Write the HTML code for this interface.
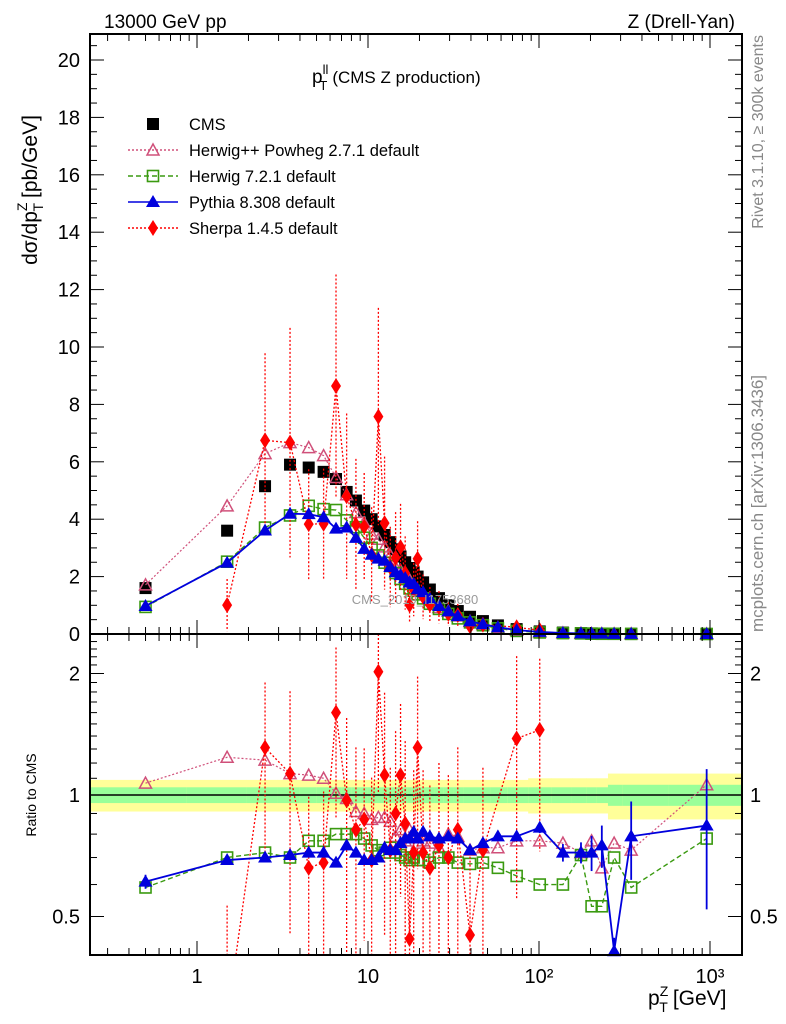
<!DOCTYPE html>
<html><head><meta charset="utf-8"><style>
html,body{margin:0;padding:0;background:#fff}
svg{display:block;font-family:"Liberation Sans",sans-serif}
</style></head><body>
<svg id="chart" width="786" height="1024" viewBox="0 0 786 1024" xmlns="http://www.w3.org/2000/svg">
<g id="bands"></g><g id="grid"></g><g id="series"></g><g id="axes"></g>
<text x="104" y="28" font-size="19">13000 GeV pp</text>
<text x="735" y="28" font-size="19" text-anchor="end">Z (Drell-Yan)</text>
<text x="312" y="83" font-size="19">p<tspan font-size="13" dy="-9">ll</tspan><tspan font-size="13" dx="-9" dy="16">T</tspan><tspan dy="-7" dx="5" font-size="17">(CMS Z production)</tspan></text>
<text x="415" y="604" font-size="13" fill="#999" text-anchor="middle">CMS_2019_I1753680</text>
<text transform="translate(763,35) rotate(-90)" font-size="16" fill="#888" text-anchor="end">Rivet 3.1.10, ≥ 300k events</text>
<text transform="translate(763,632) rotate(-90)" font-size="17" fill="#888">mcplots.cern.ch [arXiv:1306.3436]</text>
<text transform="translate(37,190) rotate(-90)" font-size="21" text-anchor="middle">dσ/dp<tspan font-size="14" dy="-10">Z</tspan><tspan font-size="14" dx="-9" dy="16">T</tspan><tspan dy="-6" dx="5">[pb/GeV]</tspan></text>
<text transform="translate(36,795) rotate(-90)" font-size="14" text-anchor="middle">Ratio to CMS</text>
<text x="648" y="1005" font-size="21">p<tspan font-size="14" dy="-9">Z</tspan><tspan font-size="14" dx="-9" dy="16">T</tspan><tspan dy="-7" dx="5">[GeV]</tspan></text>
<g id="legend"></g>
</svg>
<script>
const pT=[0.5,1.5,2.5,3.5,4.5,5.5,6.5,7.5,8.5,9.5,10.5,11.5,12.5,13.5,14.5,15.5,16.5,17.5,18.5,19.5,21,23,26,29.5,33.5,39.5,47,57.5,74,101,138,176,203,233,275,346,956];
const cmsVals=[1.6,3.6,5.15,5.9,5.8,5.65,5.4,4.95,4.65,4.3,4.0,3.75,3.45,3.2,2.95,2.7,2.5,2.3,2.15,2.0,1.8,1.55,1.25,1.0,0.8,0.6,0.45,0.3,0.17,0.09,0.05,0.03,0.02,0.015,0.01,0.006,0.001];
const herwigPPRatio=[1.07,1.24,1.22,1.13,1.12,1.1,1.01,0.98,0.91,0.9,0.87,0.88,0.88,0.86,0.79,0.82,0.77,0.82,0.8,0.76,0.77,0.76,0.74,0.8,0.79,0.73,0.74,0.74,0.77,0.77,0.76,0.72,0.77,0.66,0.76,0.73,1.06];
const herwig7Ratio=[0.59,0.7,0.72,0.7,0.77,0.77,0.8,0.8,0.8,0.78,0.75,0.73,0.72,0.74,0.72,0.71,0.7,0.69,0.7,0.69,0.69,0.68,0.7,0.7,0.68,0.675,0.68,0.66,0.63,0.6,0.6,0.71,0.53,0.53,0.7,0.59,0.78];
const pythiaRatio=[0.61,0.69,0.7,0.71,0.72,0.72,0.68,0.75,0.72,0.69,0.69,0.7,0.74,0.73,0.73,0.76,0.78,0.78,0.81,0.78,0.81,0.79,0.78,0.79,0.78,0.73,0.76,0.79,0.79,0.83,0.72,0.72,0.72,0.75,0.41,0.79,0.84];
const pythiaErr=[0.04,0.02,0.02,0.02,0.02,0.02,0.02,0.02,0.02,0.02,0.02,0.02,0.02,0.02,0.02,0.02,0.02,0.02,0.02,0.02,0.02,0.02,0.02,0.02,0.02,0.02,0.02,0.02,0.02,0.03,0.05,0.06,0.1,0.12,0.08,0.22,0.38];
const sherpaRatio=[null,0.28,1.31,1.13,0.66,0.68,1.6,0.97,0.82,0.87,0.69,2.02,1.12,0.73,0.9,1.12,0.85,0.44,0.72,1.31,0.72,0.66,0.75,0.7,0.82,0.45,0.73,null,1.38,1.45,null,null,null,null,null,null,null];
const sherpaErr=[0,0.9,0.45,0.6,0.5,0.5,0.45,0.6,0.6,0.5,0.6,0.5,0.6,0.6,0.6,0.5,0.6,0.6,0.6,0.5,0.6,0.6,0.6,0.6,0.6,0.6,0.6,0,0.6,0.5,0,0,0,0,0,0,0];
const yMainTicks=[0,2,4,6,8,10,12,14,16,18,20];
const ratioTicks=[0.5,1,2];
const xTickLabels=["1","10","10²","10³"];

const NS="http://www.w3.org/2000/svg";
const L=90,R=742,T=34,MB=634,RB=955;
const X=v=>197+Math.log10(v)*171;
const Ym=v=>MB-v*28.7;
const YrRaw=r=>795-Math.log2(r)*121.5;
const Yr=r=>Math.min(RB,Math.max(MB,YrRaw(r)));
function el(tag,attrs,parent){const e=document.createElementNS(NS,tag);for(const k in attrs)e.setAttribute(k,attrs[k]);parent.appendChild(e);return e;}
const axes=document.getElementById('axes'),series=document.getElementById('series'),bands=document.getElementById('bands');

for(let i=0;i<pT.length;i++){
  const lo=i==0?L:(X(pT[i-1])+X(pT[i]))/2, hi=i==pT.length-1?R:(X(pT[i])+X(pT[i+1]))/2;
  const f=pT[i]>250?0.13:(pT[i]>100?0.1:0.09), g=pT[i]>250?0.06:0.045;
  let b=el('rect',{x:lo,y:Yr(1+f),width:hi-lo+0.5,height:Yr(1-f)-Yr(1+f),fill:'#ffff99'},bands);
  
  
  b=el('rect',{x:lo,y:Yr(1+g),width:hi-lo+0.5,height:Yr(1-g)-Yr(1+g),fill:'#99ff99'},bands);
  
  
}
el('line',{x1:L,x2:R,y1:795,y2:795,stroke:'#000','stroke-width':1.5},bands);

for(const [y1,y2,n] of [[T,MB,'main-frame'],[MB,RB,'ratio-frame']]){
  const f=el('rect',{x:L,y:y1,width:R-L,height:y2-y1,fill:'none',stroke:'#000','stroke-width':2},axes);
  
  
}
for(let d=-1;d<=3;d++)for(let m=1;m<10;m++){
  const v=m*Math.pow(10,d),x=X(v);if(x<L||x>R)continue;
  const len=m==1?14:7;
  for(const [y,s] of [[T,1],[MB,-1],[MB,1],[RB,-1]])el('line',{x1:x,x2:x,y1:y,y2:y+s*len,stroke:'#000','stroke-width':1},axes);
}
xTickLabels.forEach((t,i)=>{const tx=el('text',{x:X(Math.pow(10,i)),y:983,'font-size':20,'text-anchor':'middle'},axes);tx.textContent=t;
  
  });
for(let v=0;v<=20.6;v+=0.5){const y=Ym(v),len=(Math.abs(v%2)<1e-6)?14:7;
  el('line',{x1:L,x2:L+len,y1:y,y2:y,stroke:'#000'},axes);el('line',{x1:R,x2:R-len,y1:y,y2:y,stroke:'#000'},axes);}
yMainTicks.forEach(v=>{const t=el('text',{x:80,y:Ym(v)+7,'font-size':20,'text-anchor':'end'},axes);t.textContent=v;
  
  });
for(let v=0.4;v<=2.5;v+=0.1){const y=Yr(v);if(y<=MB+1||y>=RB-1)continue;const maj=[0.5,1,2].some(m=>Math.abs(m-v)<1e-6);const len=maj?14:7;
  el('line',{x1:L,x2:L+len,y1:y,y2:y,stroke:'#000'},axes);el('line',{x1:R,x2:R-len,y1:y,y2:y,stroke:'#000'},axes);}
ratioTicks.forEach(v=>{for(const [x,a] of [[80,'end'],[750,'start']]){const t=el('text',{x:x,y:Yr(v)+7,'font-size':20,'text-anchor':a},axes);t.textContent=v;
  
  }});

function marker(type,x,y,col,g){
  let m;
  if(type=='sq')m=el('rect',{x:x-6,y:y-6,width:12,height:12,fill:col},g);
  else if(type=='osq')m=el('rect',{x:x-5.5,y:y-5.5,width:11,height:11,fill:'#fff','fill-opacity':0,stroke:col,'stroke-width':1.6},g);
  else if(type=='otri')m=el('polygon',{points:`${x},${y-6} ${x-6},${y+5} ${x+6},${y+5}`,fill:'none',stroke:col,'stroke-width':1.5},g);
  else if(type=='tri')m=el('polygon',{points:`${x},${y-7} ${x-7},${y+5} ${x+7},${y+5}`,fill:col},g);
  else m=el('polygon',{points:`${x},${y-8} ${x-5},${y} ${x},${y+8} ${x+5},${y}`,fill:col},g);
  return m;
}
function drawSeries(name,ratios,type,col,dash,width,errs){
  const g=el('g',{},series);
  
  
  for(const panel of ['main','ratio']){
    let line=[],pts=[];
    ratios.forEach((r,i)=>{if(r==null)return;
      const x=X(pT[i]);
      const y=panel=='main'?Ym(cmsVals[i]*r):YrRaw(r);
      if(errs&&errs[i]){
        const y1=panel=='main'?Ym(cmsVals[i]*r*(1+errs[i])):Yr(r*(1+errs[i]));
        const y2=panel=='main'?Ym(Math.max(0,cmsVals[i]*r*(1-errs[i]))):Yr(Math.max(0.01,r*(1-errs[i])));
        el('line',{x1:x,x2:x,y1:Math.max(panel=='main'?T:MB,y1),y2:Math.min(panel=='main'?MB:RB,y2),stroke:col,'stroke-width':width,'stroke-dasharray':dash},g);
      }
      line.push([x,y]);
      if(y>=(panel=='main'?T:MB)&&y<=(panel=='main'?MB:RB))pts.push([x,y]);
    });
    const cp=el('clipPath',{id:'clip-'+name+'-'+panel},g);
    el('rect',{x:L,y:panel=='main'?T:MB,width:R-L,height:panel=='main'?MB-T:RB-MB},cp);
    el('polyline',{points:line.map(p=>p.join(',')).join(' '),fill:'none',stroke:col,'stroke-width':width,'stroke-dasharray':dash,'clip-path':`url(#clip-${name}-${panel})`},g);
    pts.forEach(p=>{const m=marker(type,p[0],p[1],col,g);
      
      });
  }
}
const cg=el('g',{},series);


cmsVals.forEach((v,i)=>{const m=marker('sq',X(pT[i]),Ym(v),'#000',cg);
  
  });
drawSeries('herwigpp-powheg',herwigPPRatio,'otri','#d0507a','2,2',1.2,null);
drawSeries('herwig7',herwig7Ratio,'osq','#3a9a10','5,3',1.4,null);
drawSeries('sherpa',sherpaRatio,'dia','#ff0000','2,2',1.3,sherpaErr);
drawSeries('pythia',pythiaRatio,'tri','#0000dd','',1.8,pythiaErr);

const lg=document.getElementById('legend');
const leg=[['CMS','sq','#000',''],['Herwig++ Powheg 2.7.1 default','otri','#d0507a','2,2'],['Herwig 7.2.1 default','osq','#3a9a10','5,3'],['Pythia 8.308 default','tri','#0000dd',''],['Sherpa 1.4.5 default','dia','#ff0000','2,2']];
leg.forEach((e,i)=>{const y=124+i*26;
  if(i>0)el('line',{x1:128,x2:178,y1:y,y2:y,stroke:e[2],'stroke-width':1.4,'stroke-dasharray':e[3]},lg);
  marker(e[1],153,y,e[2],lg);
  const t=el('text',{x:189,y:y+6,'font-size':16.5},lg);t.textContent=e[0];
  
  });
</script>
</body></html>
